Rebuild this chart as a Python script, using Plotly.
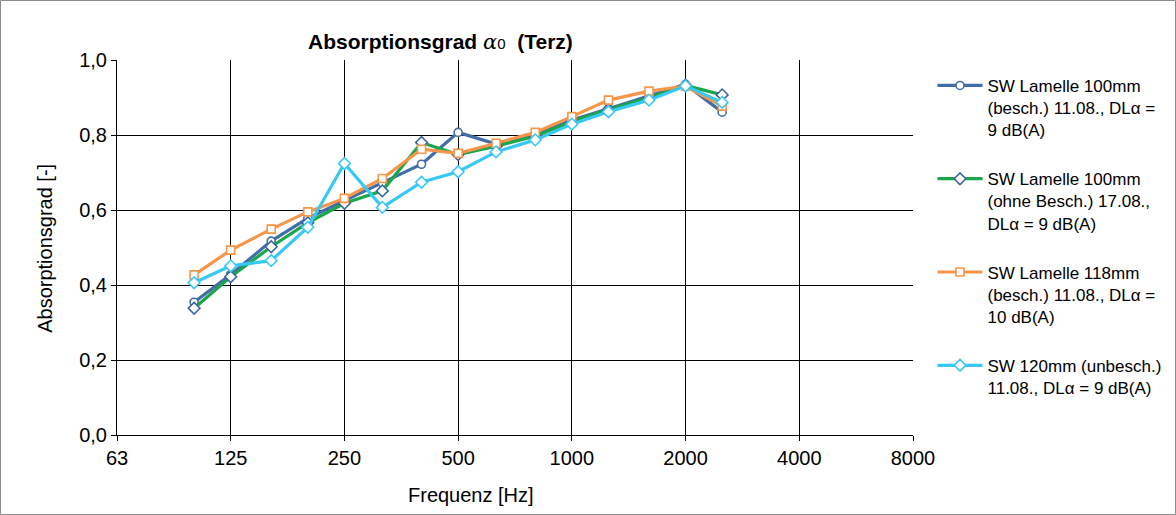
import plotly.graph_objects as go

freqs = [100, 125, 160, 200, 250, 315, 400, 500, 630, 800, 1000, 1250, 1600, 2000, 2500]
s1 = [0.354, 0.428, 0.517, 0.578, 0.625, 0.672, 0.722, 0.807, 0.776, 0.800, 0.840, 0.870, 0.903, 0.935, 0.861]
s2 = [0.338, 0.422, 0.502, 0.566, 0.618, 0.651, 0.780, 0.748, 0.770, 0.797, 0.836, 0.868, 0.900, 0.932, 0.907]
s3 = [0.427, 0.493, 0.549, 0.595, 0.631, 0.684, 0.762, 0.751, 0.778, 0.807, 0.849, 0.893, 0.917, 0.930, 0.877]
s4 = [0.406, 0.451, 0.465, 0.554, 0.724, 0.607, 0.674, 0.702, 0.755, 0.787, 0.829, 0.862, 0.893, 0.931, 0.887]

names = [
    "SW Lamelle 100mm<br>(besch.) 11.08., DLα =<br>9 dB(A)",
    "SW Lamelle 100mm<br>(ohne Besch.) 17.08.,<br>DLα = 9 dB(A)",
    "SW Lamelle 118mm<br>(besch.) 11.08., DLα =<br>10 dB(A)",
    "SW 120mm (unbesch.)<br>11.08., DLα = 9 dB(A)",
]
xtick_vals = [62.5, 125, 250, 500, 1000, 2000, 4000, 8000]
xtick_text = ["63", "125", "250", "500", "1000", "2000", "4000", "8000"]
ytick_vals = [0, 0.2, 0.4, 0.6, 0.8, 1.0]
ytick_text = ["0,0", "0,2", "0,4", "0,6", "0,8", "1,0"]

FONT = "Liberation Sans, Arial, sans-serif"
styles = [
    dict(color="#426DA7", symbol="circle", mcolor="#426DA7", size=8),
    dict(color="#1AA64A", symbol="diamond", mcolor="#3D64A0", size=9),
    dict(color="#F7964A", symbol="square", mcolor="#F7964A", size=8),
    dict(color="#38C8F5", symbol="diamond", mcolor="#38C8F5", size=9),
]

fig = go.Figure()
for i, (ys, nm, st) in enumerate(zip([s1, s2, s3, s4], names, styles)):
    fig.add_trace(go.Scatter(
        x=freqs, y=ys, name=nm, mode="lines+markers", legendgroup=f"g{i}",
        line=dict(color=st["color"], width=3.2),
        marker=dict(symbol=st["symbol"], size=st["size"], color="white",
                    line=dict(color=st["mcolor"], width=1.6)),
    ))

fig.update_layout(
    width=1176, height=515,
    margin=dict(l=117, r=263, t=60, b=80, autoexpand=False),
    paper_bgcolor="white", plot_bgcolor="white",
    font=dict(family=FONT, size=20, color="black"),
    showlegend=True,
    legend=dict(x=1.0245, y=0.979, xanchor="left", yanchor="top", valign="top",
                font=dict(family=FONT, size=17, color="black"),
                tracegroupgap=24, itemwidth=45, bgcolor="rgba(0,0,0,0)"),
    xaxis=dict(type="log", range=[1.79588, 3.90309],
               tickvals=xtick_vals, ticktext=xtick_text,
               showgrid=True, gridcolor="black", gridwidth=1,
               showline=True, linecolor="black", linewidth=1,
               ticks="outside", ticklen=5, tickcolor="black",
               tickfont=dict(size=20), zeroline=False),
    yaxis=dict(range=[0, 1.0], tickvals=ytick_vals, ticktext=ytick_text,
               showgrid=True, gridcolor="black", gridwidth=1,
               showline=True, linecolor="black", linewidth=1,
               ticks="outside", ticklen=5, tickcolor="black",
               tickfont=dict(size=20), zeroline=False),
    annotations=[
        dict(text="<b>Absorptionsgrad </b><span style='font-family:DejaVu Serif'><i>α</i></span><span style='font-size:15px'>0</span><b>  (Terz)</b>",
             xref="paper", yref="paper", x=0.4058, y=1.047, showarrow=False,
             font=dict(family=FONT, size=21, color="black"), xanchor="center", yanchor="middle"),
        dict(text="Frequenz [Hz]", xref="paper", yref="paper", x=0.4447, y=-0.16,
             showarrow=False, font=dict(family=FONT, size=20), xanchor="center", yanchor="middle"),
        dict(text="Absorptionsgrad [-]", xref="paper", yref="paper", x=-0.0905, y=0.499,
             textangle=-90, showarrow=False, font=dict(family=FONT, size=20),
             xanchor="center", yanchor="middle"),
    ],
    shapes=[
        dict(type="rect", xref="paper", yref="paper",
             x0=-116.5 / 796, x1=(1175.5 - 117) / 796,
             y0=(435 - 514.5) / 375, y1=(435 - 0.5) / 375,
             line=dict(color="#8C8C8C", width=1), fillcolor="rgba(0,0,0,0)", layer="below"),
    ],
)

fig.write_html("out.html")
